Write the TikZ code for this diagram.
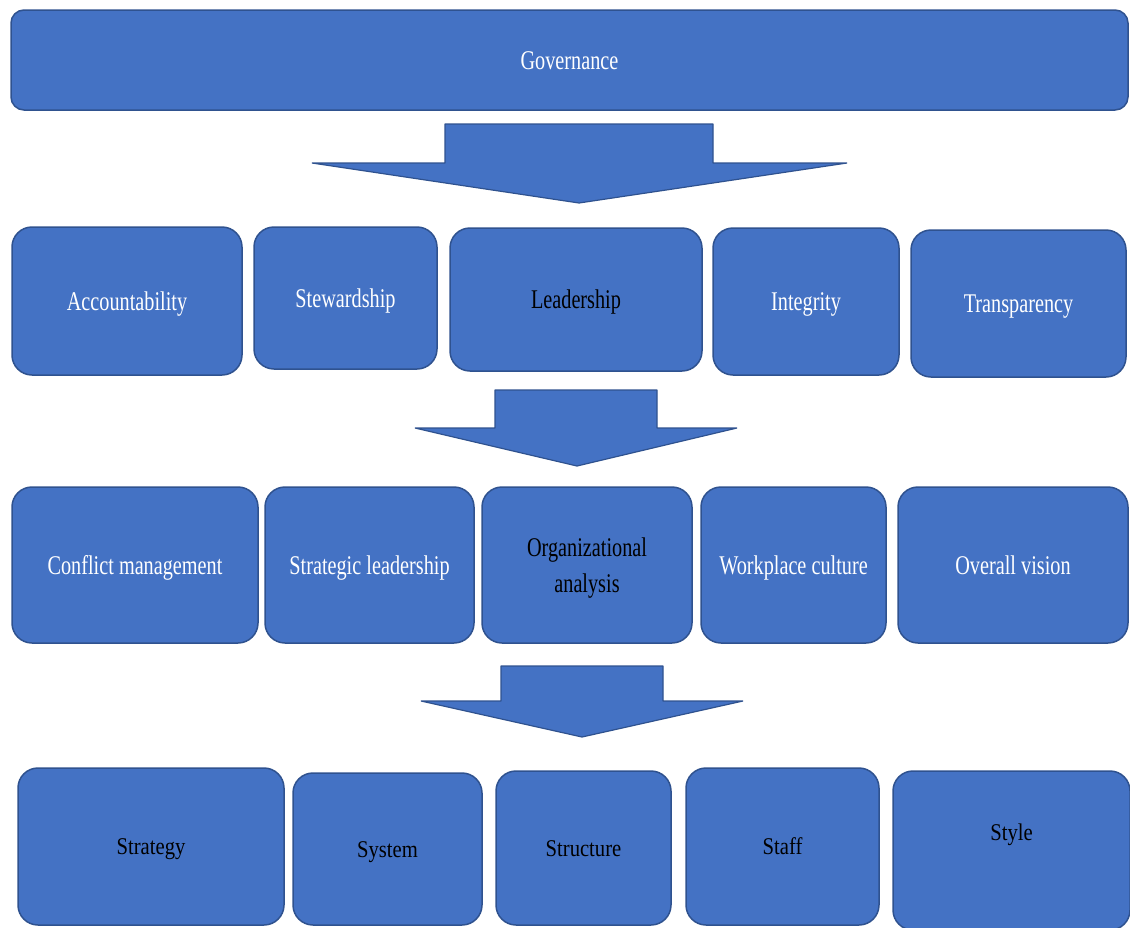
\documentclass[tikz,border=0pt]{standalone}
\usepackage{fontspec}
\setmainfont{Liberation Serif}
\newfontfamily\garfont[FakeStretch=0.75]{Liberation Serif}
\newfontfamily\timesnarrow[FakeStretch=0.86]{Liberation Serif}
\definecolor{boxfill}{HTML}{4472C4}
\definecolor{boxline}{HTML}{2F528F}
\begin{document}
\begin{tikzpicture}[x=1pt,y=-1pt,
  box/.style={draw=boxline, fill=boxfill, line width=1.5pt, rounded corners=20pt, inner sep=0pt},
  whitetxt/.style={text=white, font=\garfont\fontsize{27}{36}\selectfont, align=center, text height=18pt, text depth=0pt},
  blacktxt/.style={text=black, font=\garfont\fontsize{27}{36}\selectfont, align=center, text height=18pt, text depth=0pt},
  twolinetxt/.style={text=black, font=\garfont\fontsize{27}{36}\selectfont, align=center, inner sep=0pt},
  bottomtxt/.style={text=black, font=\timesnarrow\fontsize{24}{30}\selectfont, align=center, text height=16pt, text depth=0pt},
  bigarrow/.style={draw=boxline, fill=boxfill, line width=1.2pt, line join=miter, miter limit=1}]
\useasboundingbox (0,0) rectangle (1130,927);
% top box
\node[box, rounded corners=13pt, minimum width=1117pt, minimum height=100pt, whitetxt] (gov) at (569.5,60) {Governance};
% arrow 1
\draw[bigarrow] (445,124) -- (713,124) -- (713,163) -- (847,163) -- (579,203) -- (312,163) -- (445,163) -- cycle;
% row 2
\node[box, minimum width=230pt, minimum height=148pt, whitetxt] (acc) at (127,301) {Accountability};
\node[box, minimum width=183pt, minimum height=142pt, whitetxt] (stw) at (345.5,298) {Stewardship};
\node[box, minimum width=252pt, minimum height=143pt, blacktxt] (lea) at (576,299.5) {Leadership};
\node[box, minimum width=186pt, minimum height=147pt, whitetxt] (int) at (806,301.5) {Integrity};
\node[box, minimum width=215pt, minimum height=147pt, whitetxt] (tra) at (1018.5,303.5) {Transparency};
% arrow 2
\draw[bigarrow] (495,390) -- (657,390) -- (657,428) -- (737,428) -- (577,466) -- (415,428) -- (495,428) -- cycle;
% row 3
\node[box, minimum width=246pt, minimum height=156pt, whitetxt] (con) at (135,565) {Conflict management};
\node[box, minimum width=209pt, minimum height=156pt, whitetxt] (str) at (369.5,565) {Strategic leadership};
\node[box, minimum width=210pt, minimum height=156pt] (org) at (587,565) {};
\node[twolinetxt] (orglbl) at ([yshift=-3pt]org.center) {Organizational\\analysis};
\node[box, minimum width=185pt, minimum height=156pt, whitetxt] (wor) at (793.5,565) {Workplace culture};
\node[box, minimum width=230pt, minimum height=156pt, whitetxt] (ove) at (1013,565) {Overall vision};
% arrow 3
\draw[bigarrow] (501,666) -- (663,666) -- (663,701) -- (743,701) -- (582,737) -- (421,701) -- (501,701) -- cycle;
% row 4
\node[box, minimum width=266pt, minimum height=157pt, bottomtxt] (sgy) at (151,846.5) {Strategy};
\node[box, minimum width=189pt, minimum height=152pt, bottomtxt] (sys) at (387.5,849) {System};
\node[box, minimum width=175pt, minimum height=154pt, bottomtxt] (stu) at (583.5,848) {Structure};
\node[box, minimum width=193pt, minimum height=157pt, bottomtxt] (sta) at (782.5,846.5) {Staff};
\node[box, minimum width=237pt, minimum height=159pt] (sty) at (1011.5,850.5) {};
\node[bottomtxt] (stylbl) at ([yshift=18pt]sty.center) {Style};
\end{tikzpicture}
\end{document}
